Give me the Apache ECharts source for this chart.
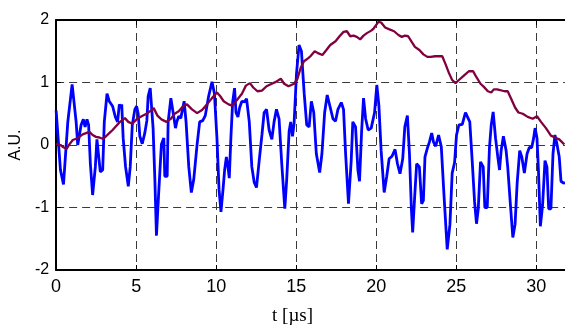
<!DOCTYPE html>
<html>
<head>
<meta charset="utf-8">
<script src="https://cdn.jsdelivr.net/npm/echarts@6/dist/echarts.min.js"></script>
<style>
html,body{margin:0;padding:0;background:#fff;}
#chart{width:565px;height:331px;}
</style>
</head>
<body>
<div id="chart"></div>
<script>
// Blue signal: [t (µs), value]
const blueSeries = [
[0.0,0.55],[0.27,-0.4],[0.46,-0.63],[0.73,0.37],[1.0,0.97],[1.25,0.37],[1.35,0.0],[1.47,0.02],[1.56,0.32],[1.7,0.41],
[1.81,0.29],[1.93,0.41],[2.03,0.32],[2.14,-0.3],[2.28,-0.8],[2.45,-0.35],[2.55,0.09],[2.66,0.07],[2.76,-0.43],[2.91,-0.4],
[3.01,0.37],[3.18,0.82],[3.32,0.7],[3.53,0.62],[3.7,0.45],[3.84,0.37],[3.95,0.65],[4.05,0.6],[4.1,0.65],[4.19,0.11],
[4.34,-0.35],[4.51,-0.66],[4.63,-0.35],[4.76,0.32],[4.92,0.57],[5.03,0.62],[5.13,0.5],[5.23,0.14],[5.38,0.02],[5.54,0.19],
[5.67,0.39],[5.75,0.78],[5.88,0.91],[5.96,0.92],[6.06,0.27],[6.17,-0.55],[6.27,-1.45],[6.4,-0.81],[6.5,-0.35],[6.58,0.01],
[6.73,0.11],[6.79,-0.5],[6.94,-0.5],[7.0,0.37],[7.17,0.75],[7.31,0.52],[7.46,0.27],[7.54,0.37],[7.66,0.46],[7.79,0.43],
[8.0,0.7],[8.12,0.37],[8.29,-0.35],[8.45,-0.76],[8.6,-0.55],[8.81,0.01],[8.97,0.37],[9.16,0.39],[9.32,0.47],[9.53,0.78],
[9.74,1.01],[9.89,0.83],[10.05,0.11],[10.18,-0.71],[10.3,-1.07],[10.43,-0.71],[10.53,-0.4],[10.64,-0.19],[10.74,-0.35],[10.82,-0.53],
[10.92,0.11],[11.03,0.68],[11.15,0.91],[11.24,0.52],[11.36,0.45],[11.47,0.6],[11.61,0.7],[11.77,0.69],[11.9,0.74],[12.07,0.37],
[12.23,-0.35],[12.38,-0.6],[12.52,-0.68],[12.69,-0.25],[12.86,0.16],[13.0,0.52],[13.15,0.57],[13.31,0.24],[13.48,0.09],[13.62,0.37],
[13.77,0.57],[13.93,0.42],[14.1,-0.3],[14.29,-1.02],[14.41,-0.55],[14.56,0.22],[14.66,0.37],[14.77,0.14],[14.87,0.34],[15.02,1.14],
[15.18,1.6],[15.33,1.5],[15.5,0.83],[15.66,0.32],[15.81,0.29],[15.95,0.7],[16.1,0.52],[16.26,-0.14],[16.47,-0.44],[16.61,-0.14],
[16.78,0.52],[16.94,0.8],[17.13,0.6],[17.3,0.42],[17.46,0.38],[17.61,0.57],[17.82,0.68],[17.96,0.57],[18.09,-0.14],[18.27,-0.94],
[18.44,-0.25],[18.54,0.37],[18.71,0.29],[18.86,-0.4],[18.96,-0.58],[19.09,0.22],[19.21,0.75],[19.34,0.42],[19.5,0.24],[19.69,0.27],
[19.79,0.26],[19.9,0.52],[20.04,0.96],[20.17,0.63],[20.31,-0.09],[20.5,-0.76],[20.66,-0.5],[20.81,-0.22],[20.99,-0.18],[21.18,-0.07],
[21.33,-0.3],[21.49,-0.46],[21.66,-0.22],[21.79,0.29],[21.95,0.47],[22.08,-0.14],[22.2,-1.02],[22.28,-1.4],[22.41,-0.81],[22.53,-0.3],
[22.7,-0.35],[22.84,-0.94],[22.95,-0.89],[23.05,-0.19],[23.2,-0.05],[23.33,0.05],[23.47,0.19],[23.58,0.05],[23.72,-0.02],[23.9,0.16],
[24.07,-0.03],[24.24,-0.81],[24.44,-1.67],[24.61,-1.27],[24.75,-0.45],[24.9,-0.28],[25.02,0.16],[25.17,0.32],[25.38,0.33],[25.58,0.52],
[25.69,0.5],[25.85,0.37],[26.0,-0.25],[26.15,-0.91],[26.27,-1.26],[26.38,-1.02],[26.52,-0.27],[26.69,-0.35],[26.79,-1.0],[26.94,-1.0],
[27.08,-0.04],[27.19,0.32],[27.31,0.53],[27.46,0.11],[27.6,-0.19],[27.71,-0.4],[27.81,-0.09],[27.95,0.14],[28.12,-0.09],[28.22,-0.35],
[28.39,-0.96],[28.54,-1.48],[28.68,-1.27],[28.81,-0.61],[28.97,-0.09],[29.1,-0.19],[29.26,-0.45],[29.43,-0.14],[29.57,-0.04],[29.72,-0.04],
[29.84,0.11],[29.93,0.27],[30.05,0.11],[30.14,-0.4],[30.26,-1.3],[30.4,-0.96],[30.55,-0.25],[30.67,-0.35],[30.78,-1.02],[30.92,-1.02],
[31.05,-0.14],[31.17,0.16],[31.3,0.01],[31.44,-0.19],[31.55,-0.58],[31.71,-0.61],[31.8,-0.6]
];

// Purple (smoothed) signal: [t (µs), value]
const purpleSeries = [
[0.0,0.02],[0.27,0.0],[0.48,-0.04],[0.65,-0.06],[0.83,0.01],[1.04,0.08],[1.25,0.1],[1.45,0.13],[1.66,0.17],[1.87,0.19],
[2.08,0.21],[2.28,0.16],[2.49,0.13],[2.7,0.12],[2.91,0.1],[3.12,0.14],[3.32,0.19],[3.53,0.24],[3.74,0.3],[3.99,0.37],
[4.3,0.43],[4.51,0.37],[4.76,0.34],[5.03,0.41],[5.34,0.46],[5.65,0.5],[5.92,0.55],[6.1,0.59],[6.33,0.47],[6.58,0.41],
[6.89,0.37],[7.17,0.42],[7.41,0.5],[7.66,0.54],[7.97,0.63],[8.18,0.65],[8.49,0.57],[8.81,0.51],[9.12,0.56],[9.43,0.65],
[9.74,0.75],[10.05,0.84],[10.26,0.78],[10.47,0.7],[10.78,0.65],[10.99,0.63],[11.3,0.72],[11.61,0.82],[11.86,0.95],[12.11,0.99],
[12.32,0.92],[12.58,0.86],[12.86,0.87],[13.15,0.94],[13.48,0.98],[13.73,1.01],[14.04,1.06],[14.25,0.98],[14.52,0.94],[14.87,0.98],
[15.08,1.06],[15.29,1.24],[15.49,1.34],[15.76,1.39],[15.89,1.42],[16.16,1.5],[16.36,1.47],[16.64,1.44],[16.89,1.52],[17.13,1.6],
[17.46,1.66],[17.71,1.74],[17.96,1.81],[18.17,1.82],[18.38,1.74],[18.59,1.75],[18.79,1.73],[19.0,1.69],[19.21,1.75],[19.42,1.79],
[19.69,1.83],[19.83,1.86],[20.14,1.97],[20.31,1.96],[20.56,1.88],[20.83,1.85],[21.12,1.82],[21.39,1.76],[21.6,1.73],[21.8,1.75],
[22.0,1.74],[22.22,1.65],[22.42,1.57],[22.7,1.52],[22.95,1.45],[23.2,1.41],[23.41,1.41],[23.68,1.42],[24.13,1.42],[24.34,1.29],
[24.55,1.15],[24.75,1.04],[24.96,0.99],[25.17,1.04],[25.48,1.11],[25.79,1.18],[26.06,1.18],[26.21,1.11],[26.52,0.98],[26.73,0.93],
[26.98,0.86],[27.19,0.84],[27.35,0.89],[27.56,0.89],[28.02,0.86],[28.22,0.86],[28.47,0.72],[28.68,0.6],[28.89,0.52],[29.16,0.5],
[29.47,0.45],[29.78,0.42],[30.05,0.46],[30.3,0.37],[30.61,0.27],[30.92,0.15],[31.17,0.12],[31.44,0.09],[31.76,0.01]
];

const xTicks = [0, 5, 10, 15, 20, 25, 30];
const yTicks = [-2, -1, 0, 1, 2];
const xTitle = 't [µs]';
const yTitle = 'A.U.';

const chart = echarts.init(document.getElementById('chart'), null, {renderer: 'canvas'});
const gridDash = {color: '#3a3a3a', width: 1, type: [8, 5]};
chart.setOption({
  animation: false,
  backgroundColor: '#ffffff',
  grid: {left: 55, top: 20, right: 0, bottom: 52, containLabel: false},
  xAxis: [{
    type: 'value', min: 0, max: 31.8, interval: 5, position: 'bottom',
    axisLine: {show: true, onZero: false, lineStyle: {color: '#000', width: 2}},
    axisTick: {show: true, inside: true, length: 5, lineStyle: {color: '#000', width: 1}},
    axisLabel: {show: true, margin: 8, fontSize: 18, color: '#000', fontFamily: 'Liberation Sans', showMaxLabel: false,
      formatter: v => xTicks.indexOf(v) >= 0 ? String(v) : ''},
    splitLine: {show: true, lineStyle: gridDash},
    name: xTitle, nameLocation: 'middle', nameGap: 37,
    nameTextStyle: {fontFamily: 'Liberation Serif', fontSize: 19, color: '#000', padding: [0, 36, 0, 0]}
  }, {
    type: 'value', min: 0, max: 31.8, interval: 5, position: 'top',
    axisLine: {show: true, onZero: false, lineStyle: {color: '#000', width: 2}},
    axisTick: {show: true, inside: true, length: 5, lineStyle: {color: '#000', width: 1}},
    axisLabel: {show: false}, splitLine: {show: false}
  }],
  yAxis: {
    type: 'value', min: -2, max: 2, interval: 1,
    axisLine: {show: true, onZero: false, lineStyle: {color: '#000', width: 2}},
    axisTick: {show: true, inside: true, length: 5, lineStyle: {color: '#000', width: 1}},
    axisLabel: {show: true, margin: 7, fontSize: 16, color: '#000', fontFamily: 'Liberation Sans',
      formatter: v => yTicks.indexOf(v) >= 0 ? String(v) : ''},
    splitLine: {show: true, lineStyle: gridDash},
    name: yTitle, nameLocation: 'middle', nameGap: 28, nameRotate: 90,
    nameTextStyle: {fontFamily: 'Liberation Sans', fontSize: 16, color: '#000'}
  },
  series: [{
    type: 'line', data: blueSeries, xAxisIndex: 0, showSymbol: false, symbol: 'none',
    lineStyle: {color: '#0000ff', width: 2.8}, z: 2, clip: true
  }, {
    type: 'line', data: purpleSeries, xAxisIndex: 0, showSymbol: false, symbol: 'none',
    lineStyle: {color: '#800040', width: 2.3}, z: 3, clip: true
  }]
});
</script>
</body>
</html>
